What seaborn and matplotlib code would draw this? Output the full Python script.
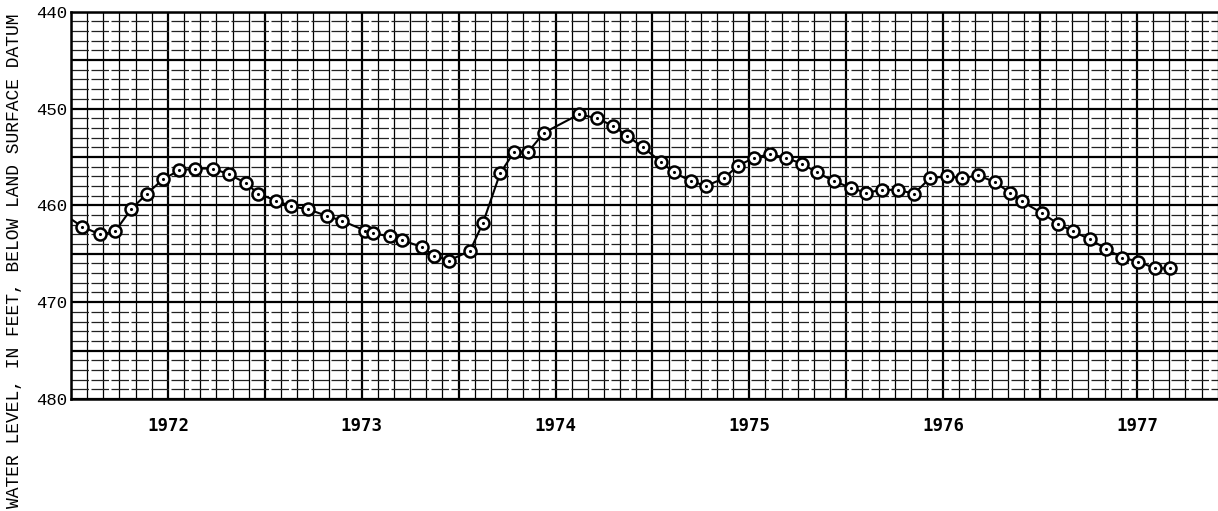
import matplotlib
matplotlib.use("Agg")
import matplotlib.pyplot as plt
from matplotlib.ticker import MultipleLocator, FuncFormatter
import numpy as np
import pandas as pd
import seaborn as sns

# ---- data (decimal year, feet below land surface)
dates = [1971.97, 1972.057, 1972.150, 1972.227, 1972.310, 1972.392, 1972.475,
         1972.557, 1972.640, 1972.733, 1972.815, 1972.903, 1972.965,
         1973.058, 1973.135, 1973.223, 1973.321, 1973.398, 1973.517,
         1973.558, 1973.646, 1973.708, 1973.811, 1973.873, 1973.950,
         1974.059, 1974.126, 1974.214, 1974.286, 1974.358, 1974.441,
         1974.621, 1974.714, 1974.797, 1974.869, 1974.951,
         1975.044, 1975.111, 1975.199, 1975.277, 1975.369, 1975.442,
         1975.524, 1975.607, 1975.689, 1975.772, 1975.849, 1975.937,
         1976.025, 1976.102, 1976.185, 1976.267, 1976.350, 1976.432,
         1976.520, 1976.598, 1976.680, 1976.768, 1976.845, 1976.907,
         1977.010, 1977.093, 1977.170, 1977.258, 1977.341, 1977.423,
         1977.506, 1977.593, 1977.671]
levels = [461.0, 462.2, 463.0, 462.7, 460.4, 458.8, 457.3,
          456.4, 456.2, 456.2, 456.8, 457.7, 458.8,
          459.5, 460.1, 460.4, 461.1, 461.6, 462.6,
          462.9, 463.2, 463.6, 464.3, 465.2, 465.7,
          464.7, 461.8, 456.7, 454.5, 454.5, 452.5,
          450.6, 451.0, 451.8, 452.8, 454.0,
          455.5, 456.6, 457.5, 458.0, 457.2, 455.9,
          455.1, 454.7, 455.1, 455.7, 456.6, 457.5,
          458.2, 458.7, 458.4, 458.4, 458.8, 457.2,
          457.0, 457.2, 456.9, 457.6, 458.7, 459.6,
          460.8, 461.9, 462.7, 463.5, 464.5, 465.4,
          465.8, 466.5, 466.5]
years = [1972, 1973, 1974, 1975, 1976, 1977]
y_labels = [440, 450, 460, 470, 480]

df = pd.DataFrame({"date": dates, "level": levels})
on_chart = df[df["date"] >= 1972]

sns.set_style("white")
plt.rcParams["font.family"] = ["Liberation Mono", "DejaVu Sans Mono"]
plt.rcParams["text.color"] = "black"
plt.rcParams["xtick.color"] = "black"
plt.rcParams["ytick.color"] = "black"

fig = plt.figure(figsize=(12.18, 5.11), dpi=100)
ax = fig.add_axes([71 / 1218, 1 - 399 / 511, 1 - 71 / 1218, (399 - 11.7) / 511])

sns.lineplot(data=df, x="date", y="level", ax=ax, color="black", lw=1.5,
             sort=False, estimator=None, zorder=3)
sns.scatterplot(data=on_chart, x="date", y="level", ax=ax, marker="o", s=75,
                facecolor="white", edgecolor="black", linewidth=1.8, zorder=4)
sns.scatterplot(data=on_chart, x="date", y="level", ax=ax, marker="o", s=5,
                color="black", linewidth=0, zorder=5)

ax.set_xlim(1972, 1972 + (1218 - 71) / 193.8)
ax.set_ylim(480, 440)

# graph-paper grid
ax.xaxis.set_major_locator(MultipleLocator(0.5))
ax.xaxis.set_minor_locator(MultipleLocator(1 / 12))
ax.yaxis.set_major_locator(MultipleLocator(5))
ax.yaxis.set_minor_locator(MultipleLocator(1))
ax.set_axisbelow(True)
ax.grid(which="major", color="black", lw=1.6)
ax.grid(which="minor", axis="x", color="black", lw=0.9)
ax.grid(which="minor", axis="y", color="#222222", lw=0.9, linestyle=(0, (14, 2)))

def year_fmt(v, pos):
    for yr in years:
        if abs(v - (yr + 0.5)) < 1e-6:
            return str(yr)
    return ""

def ft_fmt(v, pos):
    return "%d" % round(v) if round(v) in y_labels else ""

ax.xaxis.set_major_formatter(FuncFormatter(year_fmt))
ax.yaxis.set_major_formatter(FuncFormatter(ft_fmt))
ax.tick_params(axis="both", which="both", length=0, labelcolor="black")
ax.tick_params(axis="x", pad=13)
ax.tick_params(axis="y", pad=3)
for lab in ax.get_xticklabels():
    lab.set_family("DejaVu Sans Mono")
    lab.set_fontweight("bold")
    lab.set_fontsize(12.5)
for lab in ax.get_yticklabels():
    lab.set_fontsize(12.5)

ax.set_xlabel("")
ax.set_ylabel("")
for side in ["left", "top", "bottom"]:
    ax.spines[side].set_color("black")
    ax.spines[side].set_linewidth(1.8)
ax.spines["right"].set_visible(False)

fig.text(0.0115, 1 - 13 / 511, "WATER LEVEL, IN FEET, BELOW LAND SURFACE DATUM",
         rotation=90, va="top", ha="center", fontsize=13, color="black")

fig.savefig("out.png", dpi=100)
